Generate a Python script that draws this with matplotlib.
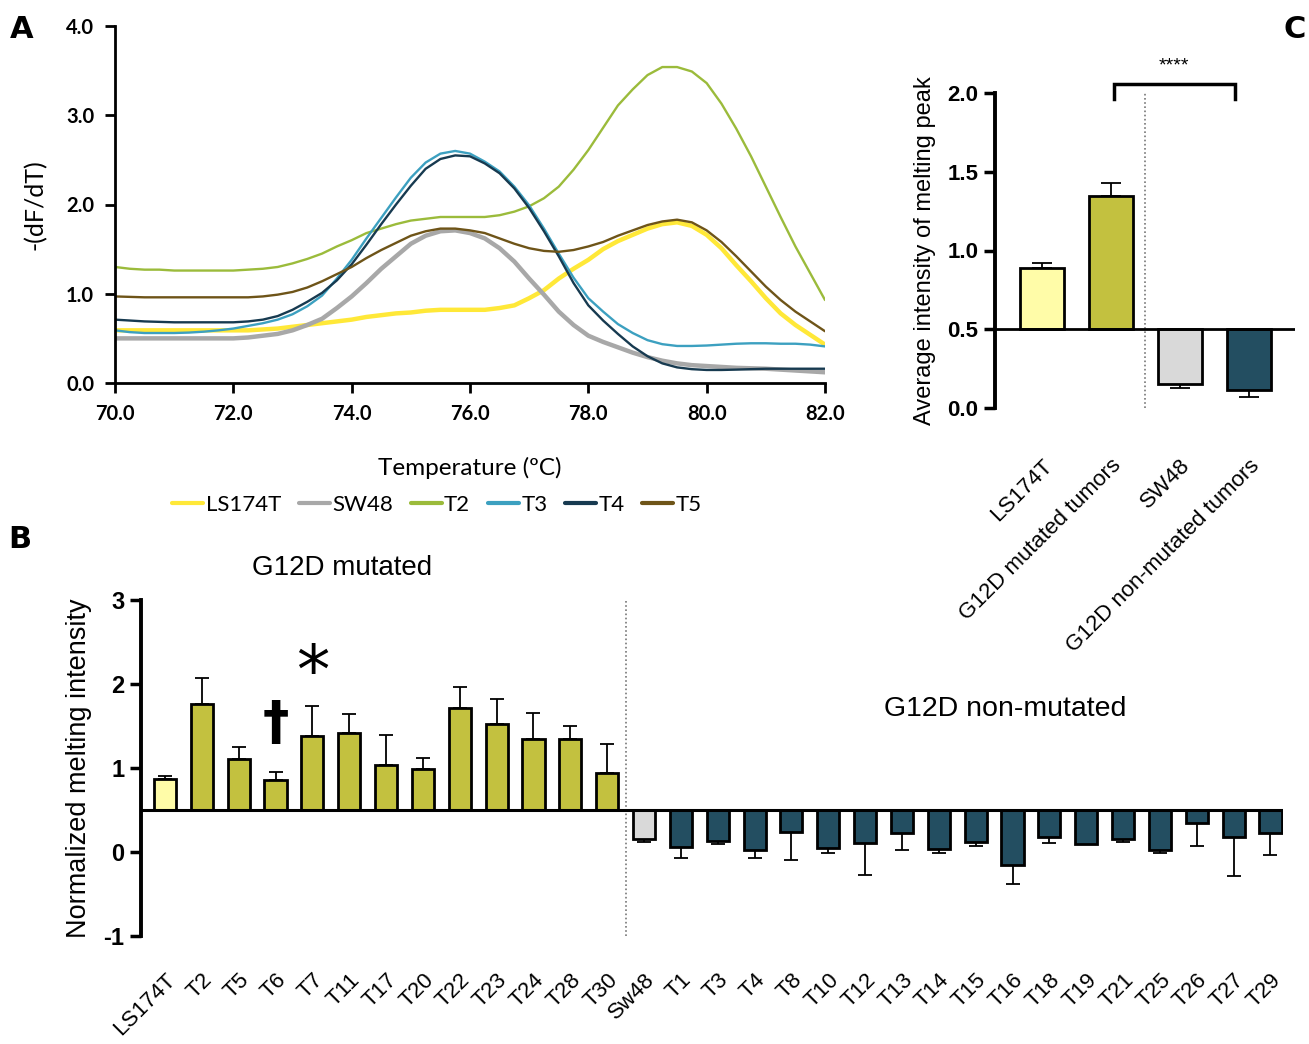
import matplotlib
matplotlib.use('Agg')
import matplotlib.pyplot as plt

# ---------------- Panel A data ----------------
temps = [70.00, 70.25, 70.50, 70.75, 71.00, 71.25, 71.50, 71.75, 72.00, 72.25, 72.50, 72.75,
         73.00, 73.25, 73.50, 73.75, 74.00, 74.25, 74.50, 74.75, 75.00, 75.25, 75.50, 75.75,
         76.00, 76.25, 76.50, 76.75, 77.00, 77.25, 77.50, 77.75, 78.00, 78.25, 78.50, 78.75,
         79.00, 79.25, 79.50, 79.75, 80.00, 80.25, 80.50, 80.75, 81.00, 81.25, 81.50, 81.75,
         82.00]
ls174t = [0.59, 0.59, 0.59, 0.59, 0.59, 0.59, 0.59, 0.59, 0.59, 0.59, 0.60, 0.61,
          0.63, 0.65, 0.67, 0.69, 0.71, 0.74, 0.76, 0.78, 0.79, 0.81, 0.82, 0.82,
          0.82, 0.82, 0.84, 0.87, 0.95, 1.04, 1.17, 1.28, 1.38, 1.50, 1.59, 1.66,
          1.73, 1.78, 1.80, 1.76, 1.66, 1.51, 1.32, 1.14, 0.95, 0.78, 0.65, 0.54,
          0.43]
sw48 = [0.50, 0.50, 0.50, 0.50, 0.50, 0.50, 0.50, 0.50, 0.50, 0.51, 0.53, 0.55,
        0.59, 0.65, 0.72, 0.84, 0.97, 1.12, 1.28, 1.42, 1.56, 1.65, 1.70, 1.71,
        1.68, 1.62, 1.51, 1.36, 1.17, 0.99, 0.80, 0.65, 0.53, 0.46, 0.40, 0.34,
        0.29, 0.25, 0.22, 0.20, 0.19, 0.18, 0.17, 0.165, 0.16, 0.15, 0.14, 0.13,
        0.12]
t2 = [1.30, 1.28, 1.27, 1.27, 1.26, 1.26, 1.26, 1.26, 1.26, 1.27, 1.28, 1.30,
      1.34, 1.39, 1.45, 1.53, 1.60, 1.68, 1.73, 1.78, 1.82, 1.84, 1.86, 1.86,
      1.86, 1.86, 1.88, 1.92, 1.98, 2.07, 2.20, 2.39, 2.61, 2.86, 3.11, 3.29,
      3.45, 3.54, 3.54, 3.49, 3.36, 3.13, 2.85, 2.54, 2.20, 1.86, 1.53, 1.23,
      0.93]
t3 = [0.59, 0.57, 0.56, 0.56, 0.56, 0.565, 0.575, 0.59, 0.61, 0.64, 0.67, 0.71,
      0.77, 0.86, 0.98, 1.17, 1.38, 1.62, 1.85, 2.08, 2.30, 2.47, 2.57, 2.60,
      2.57, 2.48, 2.37, 2.20, 1.99, 1.73, 1.45, 1.18, 0.95, 0.80, 0.66, 0.56,
      0.48, 0.435, 0.415, 0.415, 0.42, 0.43, 0.44, 0.445, 0.445, 0.44, 0.44, 0.43,
      0.41]
t4 = [0.71, 0.70, 0.69, 0.685, 0.68, 0.68, 0.68, 0.68, 0.68, 0.69, 0.71, 0.75,
      0.82, 0.91, 1.01, 1.15, 1.33, 1.55, 1.78, 2.00, 2.21, 2.40, 2.51, 2.55,
      2.54, 2.46, 2.35, 2.18, 1.96, 1.70, 1.42, 1.12, 0.87, 0.70, 0.55, 0.41,
      0.30, 0.22, 0.175, 0.155, 0.146, 0.146, 0.15, 0.155, 0.16, 0.16, 0.16, 0.16,
      0.16]
t5 = [0.97, 0.965, 0.96, 0.96, 0.96, 0.96, 0.96, 0.96, 0.96, 0.96, 0.97, 0.99,
      1.02, 1.07, 1.14, 1.22, 1.30, 1.40, 1.49, 1.57, 1.65, 1.70, 1.73, 1.73,
      1.71, 1.68, 1.62, 1.56, 1.51, 1.48, 1.47, 1.49, 1.53, 1.58, 1.65, 1.71,
      1.77, 1.81, 1.83, 1.80, 1.71, 1.58, 1.42, 1.25, 1.08, 0.93, 0.80, 0.69,
      0.58]
a_names = ["LS174T", "SW48", "T2", "T3", "T4", "T5"]
a_series = [ls174t, sw48, t2, t3, t4, t5]
a_colors = ["#FFE838", "#A8A8A8", "#9BBB3B", "#3CA0C0", "#173A50", "#6E5418"]
a_widths = [3.2, 3.2, 1.7, 1.7, 1.7, 1.7]
a_xticks = [70.0, 72.0, 74.0, 76.0, 78.0, 80.0, 82.0]
a_yticks = [0.0, 1.0, 2.0, 3.0, 4.0]

# ---------------- Panel B data ----------------
b_labels = ["LS174T", "T2", "T5", "T6", "T7", "T11", "T17", "T20", "T22", "T23", "T24",
            "T28", "T30", "Sw48", "T1", "T3", "T4", "T8", "T10", "T12", "T13", "T14",
            "T15", "T16", "T18", "T19", "T21", "T25", "T26", "T27", "T29"]
b_values = [0.87, 1.76, 1.11, 0.86, 1.38, 1.42, 1.04, 0.99, 1.71, 1.52, 1.34, 1.35, 0.94,
            0.15, 0.06, 0.13, 0.02, 0.24, 0.05, 0.11, 0.23, 0.04, 0.12, -0.16, 0.18,
            0.10, 0.16, 0.02, 0.34, 0.18, 0.23]
b_err = [0.04, 0.31, 0.14, 0.09, 0.36, 0.22, 0.35, 0.13, 0.26, 0.30, 0.32, 0.15, 0.34,
         0.03, 0.13, 0.04, 0.09, 0.33, 0.06, 0.38, 0.21, 0.05, 0.05, 0.22, 0.07,
         0.01, 0.04, 0.03, 0.27, 0.47, 0.26]
b_groups = ["ctrl_mut"] + ["mut"] * 12 + ["ctrl_wt"] + ["wt"] * 17
b_yticks = [-1, 0, 1, 2, 3]

# ---------------- Panel C data ----------------
c_labels = ["LS174T", "G12D mutated tumors", "SW48", "G12D non-mutated tumors"]
c_values = [0.89, 1.345, 0.15, 0.117]
c_err = [0.03, 0.085, 0.02, 0.047]
c_groups = ["ctrl_mut", "mut", "ctrl_wt", "wt"]
c_yticks = [0.0, 0.5, 1.0, 1.5, 2.0]

group_colors = {"ctrl_mut": "#FFFCA8", "mut": "#C3C13F", "ctrl_wt": "#D9D9D9", "wt": "#234E61"}
BASE = 0.5

W, H = 1309, 1044
fig = plt.figure(figsize=(W / 100, H / 100), dpi=100)

def rect(l, t, r, b):
    return [l / W, 1 - b / H, (r - l) / W, (b - t) / H]

FA = "Lato"
FB = "Liberation Sans"

# ================= Panel A =================
axA = fig.add_axes(rect(115, 26, 825, 383))
handles = []
for name, ys, col, lw in zip(a_names, a_series, a_colors, a_widths):
    h, = axA.plot(temps, ys, color=col, lw=lw, label=name, solid_capstyle='round',
                  solid_joinstyle='round')
    handles.append(h)
axA.set_xlim(70, 82)
axA.set_ylim(0, 4)
axA.set_xticks(a_xticks)
axA.set_xticklabels([f"{v:.1f}" for v in a_xticks], fontfamily=FA, fontweight='bold', fontsize=14.5)
axA.set_yticks(a_yticks)
axA.set_yticklabels([f"{v:.1f}" for v in a_yticks], fontfamily=FA, fontweight='bold', fontsize=14.5)
for s in ["top", "right"]:
    axA.spines[s].set_visible(False)
for s in ["left", "bottom"]:
    axA.spines[s].set_linewidth(2)
axA.tick_params(width=2, length=7, pad=8)
axA.set_xlabel("Temperature (ºC)", fontfamily=FA, fontsize=17.5, labelpad=24)
axA.set_ylabel("-(dF/dT)", fontfamily=FA, fontsize=18, labelpad=14)
leg = axA.legend(handles=handles, loc='center', bbox_to_anchor=(437 / W, 1 - 505 / H),
                 bbox_transform=fig.transFigure, ncol=6, frameon=False,
                 prop={'family': FA, 'size': 16}, handlelength=1.4, handletextpad=0.1,
                 columnspacing=0.8)
for lh in leg.get_lines():
    lh.set_linewidth(3)

fig.text(22 / W, 1 - 30 / H, "A", fontfamily="DejaVu Sans", fontweight='bold', fontsize=22,
         ha='center', va='center')
fig.text(20 / W, 1 - 540 / H, "B", fontfamily="DejaVu Sans", fontweight='bold', fontsize=22,
         ha='center', va='center')
fig.text(1295 / W, 1 - 30 / H, "C", fontfamily="DejaVu Sans", fontweight='bold', fontsize=22,
         ha='center', va='center')

# ================= Panel B =================
axB = fig.add_axes(rect(141, 600, 1283, 936))
xs = list(range(len(b_labels)))
heights = [v - BASE for v in b_values]
cols = [group_colors[g] for g in b_groups]
axB.bar(xs, heights, bottom=BASE, width=0.6, color=cols, edgecolor='black', linewidth=2, zorder=3)
lower = [e if v < BASE else 0 for v, e in zip(b_values, b_err)]
upper = [e if v >= BASE else 0 for v, e in zip(b_values, b_err)]
axB.errorbar(xs, b_values, yerr=[lower, upper], fmt='none', ecolor='black', elinewidth=1.3,
             capsize=5, capthick=1.3, zorder=2)
axB.axhline(BASE, color='black', lw=2.2, zorder=4)
axB.axvline(12.5, color='#777777', lw=1.2, ls=(0, (1, 1.5)), zorder=1)
axB.set_xlim(-0.65, 30.34)
axB.set_ylim(-1, 3)
axB.set_yticks(b_yticks)
axB.set_yticklabels([str(v) for v in b_yticks], fontfamily=FB, fontweight='bold', fontsize=17)
axB.set_xticks(xs)
axB.set_xticklabels(b_labels, rotation=45, ha='right', rotation_mode='anchor',
                    fontfamily=FB, fontsize=16)
axB.tick_params(axis='x', length=0, pad=24)
axB.tick_params(axis='y', width=2.5, length=8, pad=4)
for s in ["top", "right", "bottom"]:
    axB.spines[s].set_visible(False)
axB.spines["left"].set_linewidth(2.8)
axB.set_ylabel("Normalized melting intensity", fontfamily=FB, fontsize=19.5, labelpad=8)
axB.text(4.8, 3.38, "G12D mutated", fontfamily=FB, fontsize=20, ha='center', va='center')
axB.text(22.8, 1.70, "G12D non-mutated", fontfamily=FB, fontsize=20.5, ha='center', va='center')
axB.text(3, 1.52, "†", fontfamily="DejaVu Sans", fontweight='bold', fontsize=38,
         ha='center', va='center')
axB.text(4.0, 2.12, "*", fontfamily="DejaVu Sans", fontsize=48, ha='center', va='center')

# ================= Panel C =================
axC = fig.add_axes(rect(995, 93, 1295, 408))
xc = list(range(len(c_labels)))
ccols = [group_colors[g] for g in c_groups]
axC.bar(xc, [v - BASE for v in c_values], bottom=BASE, width=0.63, color=ccols,
        edgecolor='black', linewidth=2, zorder=3)
lowc = [e if v < BASE else 0 for v, e in zip(c_values, c_err)]
upc = [e if v >= BASE else 0 for v, e in zip(c_values, c_err)]
axC.errorbar(xc, c_values, yerr=[lowc, upc], fmt='none', ecolor='black', elinewidth=1.3,
             capsize=7, capthick=1.3, zorder=2)
axC.axhline(BASE, color='black', lw=2, zorder=4)
axC.axvline(1.5, ymax=1.0, color='#777777', lw=1.2, ls=(0, (1, 1.5)), zorder=1)
axC.set_xlim(-0.68, 3.67)
axC.set_ylim(0, 2.0)
axC.set_yticks(c_yticks)
axC.set_yticklabels([f"{v:.1f}" for v in c_yticks], fontfamily=FB, fontweight='bold', fontsize=16)
axC.set_xticks(xc)
axC.set_xticklabels(c_labels, rotation=45, ha='right', rotation_mode='anchor',
                    fontfamily=FB, fontsize=16)
axC.tick_params(axis='x', length=0, pad=34)
axC.tick_params(axis='y', width=2.5, length=8, pad=4)
for s in ["top", "right", "bottom"]:
    axC.spines[s].set_visible(False)
axC.spines["left"].set_linewidth(2.8)
axC.set_ylabel("Average intensity of melting peak", fontfamily=FB, fontsize=17, labelpad=8)
axC.plot([1.05, 1.05, 2.8, 2.8], [1.96, 2.06, 2.06, 1.96], color='black', lw=2.5,
         clip_on=False, solid_joinstyle='miter')
axC.text(1.92, 2.12, "****", fontfamily=FB, fontsize=14, ha='center', va='bottom')

fig.savefig("out.png", dpi=100, facecolor='white')
